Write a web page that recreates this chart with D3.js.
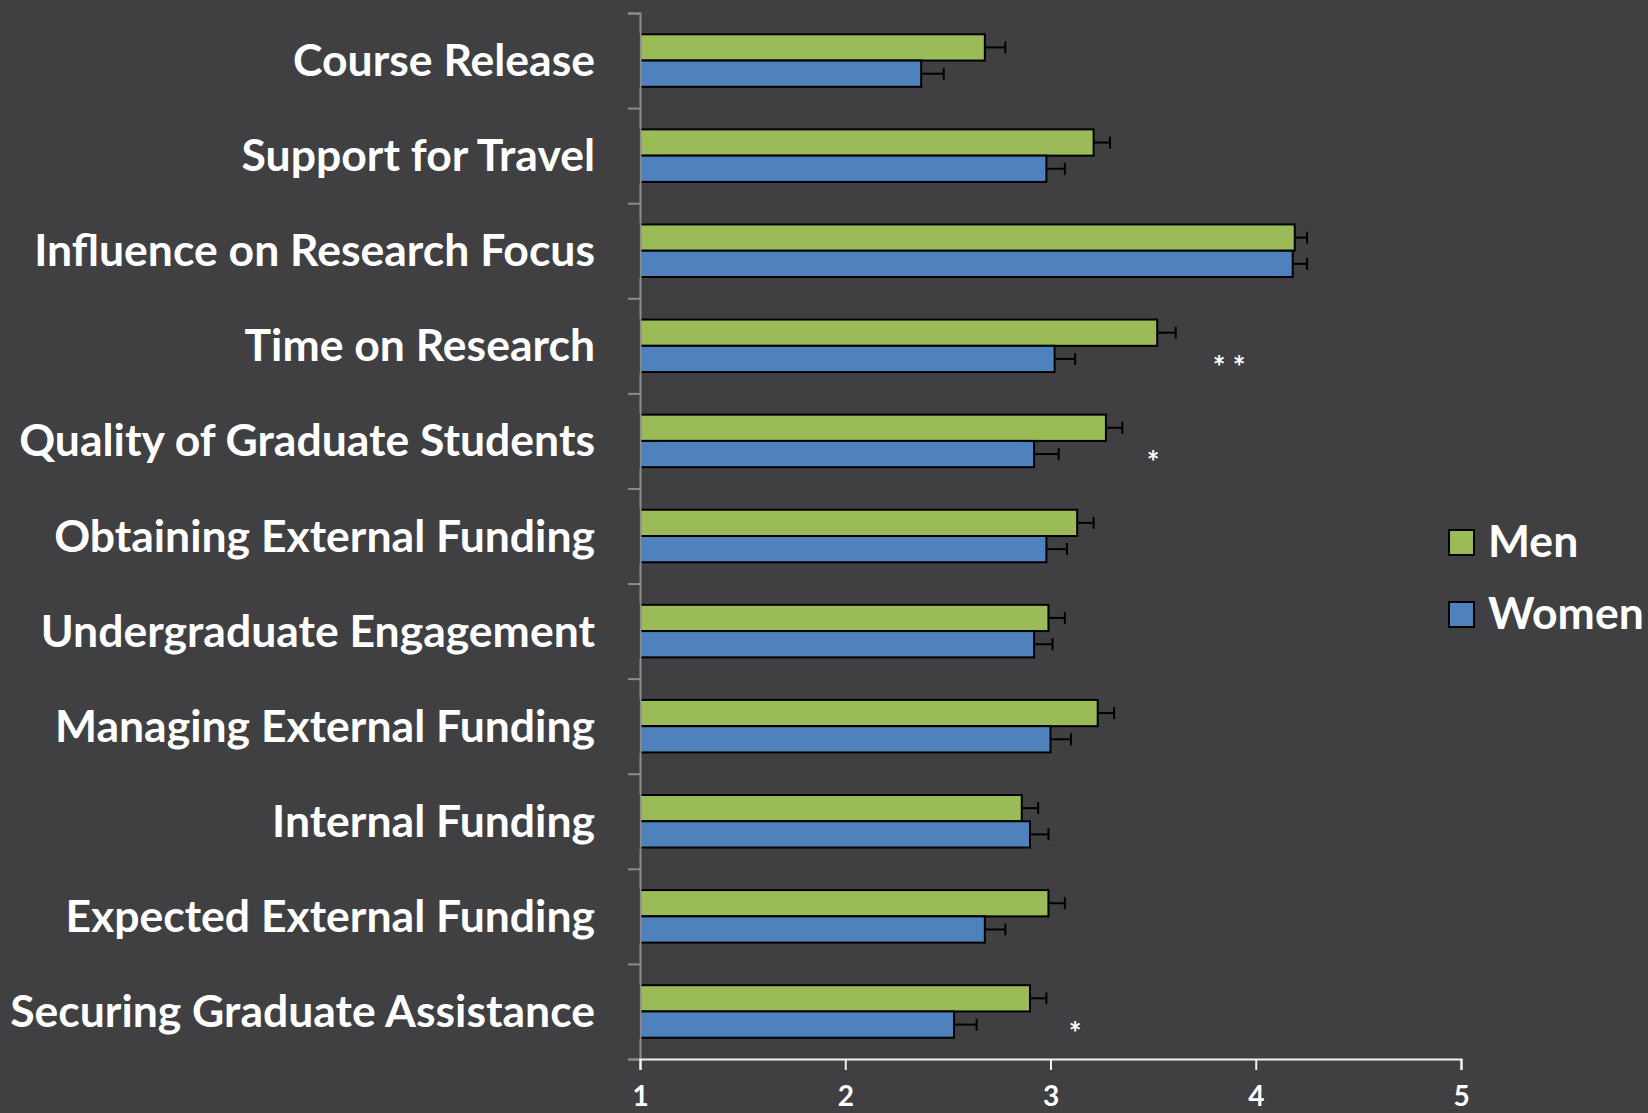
<!DOCTYPE html>
<html>
<head>
	<meta charset="utf-8">
	<title>Men vs Women bar chart</title>
	<script src="https://cdn.jsdelivr.net/npm/d3@7"></script>
	<style type="text/css">
	body { margin: 0; background: #404042; }
	svg { display: block; }
	.label { fill: #ffffff; font-family: Lato, sans-serif; font-weight: bold; }
	</style>
</head>
<body>
	<svg></svg>
	<script>
	// values
	var categories = ["Course Release", "Support for Travel", "Influence on Research Focus",
		"Time on Research", "Quality of Graduate Students", "Obtaining External Funding",
		"Undergraduate Engagement", "Managing External Funding", "Internal Funding",
		"Expected External Funding", "Securing Graduate Assistance"];
	var men = [2.68, 3.21, 4.19, 3.52, 3.27, 3.13, 2.99, 3.23, 2.86, 2.99, 2.90];
	var menErr = [0.10, 0.08, 0.06, 0.09, 0.08, 0.08, 0.08, 0.08, 0.08, 0.08, 0.08];
	var women = [2.37, 2.98, 4.18, 3.02, 2.92, 2.98, 2.92, 3.00, 2.90, 2.68, 2.53];
	var womenErr = [0.11, 0.09, 0.07, 0.10, 0.12, 0.10, 0.09, 0.10, 0.09, 0.10, 0.11];
	var xTicks = [1, 2, 3, 4, 5];
	// significance marks: category, x value, text
	var sigMarks = [
		{cat: "Time on Research", x: 3.87, text: "* *"},
		{cat: "Quality of Graduate Students", x: 3.50, text: "*"},
		{cat: "Securing Graduate Assistance", x: 3.12, text: "*"}];
	var seriesNames = ["Men", "Women"];
	var seriesColors = {Men: "#9bbb59", Women: "#4f81bd"};

	var W = 1648, H = 1113;
	var svg = d3.select("svg").attr("width", W).attr("height", H);

	var x = d3.scaleLinear().domain([1, 5]).range([640, 1461]);
	var y0 = d3.scaleBand().domain(categories).range([13, 1059]);
	var y1 = d3.scaleBand().domain(seriesNames).range([0, y0.bandwidth()]).paddingOuter(0.81);

	var rows = categories.map(function(c, i) {
		return {cat: c, values: [
			{s: "Men", v: men[i], e: menErr[i]},
			{s: "Women", v: women[i], e: womenErr[i]}]};
	});

	var groups = svg.append("g").selectAll("g")
		.data(rows).enter().append("g")
		.attr("transform", function(d) { return "translate(0," + y0(d.cat) + ")"; });

	var bars = groups.selectAll("g").data(function(d) { return d.values; })
		.enter().append("g");

	bars.append("rect")
		.attr("x", x(1))
		.attr("y", function(d) { return y1(d.s); })
		.attr("width", function(d) { return x(d.v) - x(1); })
		.attr("height", y1.bandwidth())
		.attr("fill", function(d) { return seriesColors[d.s]; })
		.attr("stroke", "#000")
		.attr("stroke-width", 2);

	// error bars
	bars.append("line")
		.attr("x1", function(d) { return x(d.v); })
		.attr("x2", function(d) { return x(d.v + d.e); })
		.attr("y1", function(d) { return y1(d.s) + y1.bandwidth() / 2; })
		.attr("y2", function(d) { return y1(d.s) + y1.bandwidth() / 2; })
		.attr("stroke", "#000").attr("stroke-width", 2);
	bars.append("line")
		.attr("x1", function(d) { return x(d.v + d.e); })
		.attr("x2", function(d) { return x(d.v + d.e); })
		.attr("y1", function(d) { return y1(d.s) + y1.bandwidth() / 2 - 6; })
		.attr("y2", function(d) { return y1(d.s) + y1.bandwidth() / 2 + 6; })
		.attr("stroke", "#000").attr("stroke-width", 2);

	// left axis: boundary ticks
	var yEdge = d3.scaleLinear().domain([0, categories.length]).range([13, 1059]);
	var leftAxis = svg.append("g")
		.attr("transform", "translate(" + x(1) + ",0)")
		.call(d3.axisLeft(yEdge).tickValues(d3.range(categories.length + 1)).tickSize(12).tickFormat(""));
	leftAxis.select(".domain").attr("stroke", "#8c8c8c").attr("stroke-width", 2);
	leftAxis.selectAll(".tick line").attr("stroke", "#8c8c8c").attr("stroke-width", 2);

	// category labels
	svg.append("g").selectAll("text")
		.data(categories).enter().append("text")
		.attr("class", "label")
		.attr("x", 595)
		.attr("y", function(d) { return y0(d) + y0.bandwidth() / 2; })
		.attr("dy", "0.35em")
		.attr("text-anchor", "end")
		.style("font-size", "44.5px")
		.text(function(d) { return d; });

	// bottom axis
	var bottomAxis = svg.append("g")
		.attr("transform", "translate(0,1059)")
		.call(d3.axisBottom(x).tickValues(xTicks).tickSize(11).tickPadding(16).tickFormat(d3.format("d")));
	bottomAxis.select(".domain").attr("stroke", "#f2f2f2").attr("stroke-width", 2);
	bottomAxis.selectAll(".tick line").attr("stroke", "#f2f2f2").attr("stroke-width", 2);
	bottomAxis.selectAll(".tick text")
		.attr("class", "label")
		.style("font-size", "28px");

	// significance marks
	svg.append("g").selectAll("text")
		.data(sigMarks).enter().append("text")
		.attr("class", "label")
		.attr("x", function(d) { return x(d.x); })
		.attr("y", function(d) { return y0(d.cat) + y1("Women") + y1.bandwidth() / 2 + 19; })
		.attr("text-anchor", "middle")
		.style("font-size", "30px")
		.text(function(d) { return d.text; });

	// legend
	var legend = svg.append("g").selectAll("g")
		.data(seriesNames).enter().append("g")
		.attr("transform", function(d, i) { return "translate(1449," + (530 + i * 72) + ")"; });
	legend.append("rect")
		.attr("width", 25).attr("height", 25)
		.attr("fill", function(d) { return seriesColors[d]; })
		.attr("stroke", "#000").attr("stroke-width", 2);
	legend.append("text")
		.attr("class", "label")
		.attr("x", 39).attr("y", 27)
		.style("font-size", "44.5px")
		.text(function(d) { return d; });
	</script>
</body>
</html>
